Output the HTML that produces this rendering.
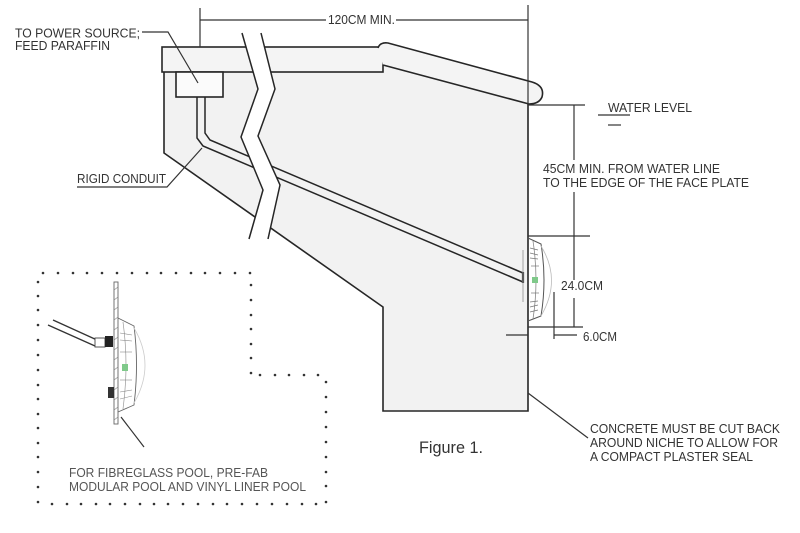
<!DOCTYPE html>
<html><head><meta charset="utf-8"><style>
html,body{margin:0;padding:0;background:#fff;}
svg{display:block;}
text{font-family:"Liberation Sans",Arial,sans-serif;}
</style></head><body>
<svg width="800" height="533" viewBox="0 0 800 533" xmlns="http://www.w3.org/2000/svg">
<rect width="800" height="533" fill="#fff"/>
<!-- body fill -->
<polygon points="164,72 383,72 383,65 528,104 528,411 383,411 383,307 164,153" fill="#f2f2f2"/>
<!-- slab -->
<rect x="162" y="47" width="221" height="25" fill="#f4f4f4" stroke="#262626" stroke-width="1.6"/>
<!-- coping -->
<path d="M378,48 Q380,42 388,43 L532,82 Q545,86 542,97 Q539,104 529,104 L383,65" fill="#f4f4f4" stroke="#262626" stroke-width="1.6"/>
<!-- body outline -->
<polyline points="164,72 164,153 383,307 383,411 528,411 528,104" fill="none" stroke="#262626" stroke-width="1.6"/>
<!-- junction box -->
<rect x="176" y="72" width="47" height="25" fill="#fbfbfb" stroke="#262626" stroke-width="1.6"/>
<!-- conduit -->
<polyline points="205,97 205,133 210,140 523,273" fill="none" stroke="#262626" stroke-width="1.5"/>
<polyline points="197,97 197,138 203,146 523,282" fill="none" stroke="#262626" stroke-width="1.5"/>
<line x1="523" y1="272" x2="523" y2="283" stroke="#262626" stroke-width="2.2"/>
<!-- break -->
<polygon points="242,33 258,89 241,137 263,190 249,239 268,239 280,185 258,136 275,89 261,33" fill="#fff"/>
<polyline points="242,33 258,89 241,137 263,190 249,239" fill="none" stroke="#262626" stroke-width="1.5"/>
<polyline points="261,33 275,89 258,136 280,185 268,239" fill="none" stroke="#262626" stroke-width="1.5"/>
<!-- dimension lines -->
<g stroke="#333" stroke-width="1.2" fill="none">
<line x1="200" y1="8" x2="200" y2="47"/>
<line x1="200" y1="20" x2="326" y2="20"/>
<line x1="396" y1="20" x2="528" y2="20"/>
<line x1="528" y1="5" x2="528" y2="104"/>
<line x1="528" y1="105" x2="585" y2="105"/>
<line x1="574" y1="105" x2="574" y2="160"/>
<line x1="574" y1="192" x2="574" y2="236"/>
<line x1="528" y1="236" x2="590" y2="236"/>
<line x1="574" y1="236" x2="574" y2="280"/>
<line x1="574" y1="298" x2="574" y2="327"/>
<line x1="528" y1="327" x2="583" y2="327"/>
<line x1="554" y1="292" x2="554" y2="339"/>
<line x1="554" y1="335" x2="577" y2="335"/>
<line x1="506" y1="335" x2="528" y2="335"/>
<line x1="598" y1="115" x2="630" y2="115"/>
<line x1="608" y1="125" x2="621" y2="125"/>
<!-- leaders -->
<polyline points="142,32 168,32 198,83"/>
<polyline points="77,187 167,187 202,148"/>
<line x1="528" y1="393" x2="588" y2="438"/>
<line x1="121" y1="417" x2="144" y2="447"/>
</g>
<!-- main fixture -->
<g fill="none">
<line x1="523" y1="250" x2="523" y2="302" stroke="#999" stroke-width="0.9"/>
<path d="M528,238 L541,244 Q547,280 541,316 L528,321" stroke="#555" stroke-width="1"/>
<path d="M533,241 Q539,280 533,319" stroke="#888" stroke-width="0.8"/>
<path d="M541,246 Q562,280 541,316" stroke="#bbb" stroke-width="0.8"/>
<g stroke="#777" stroke-width="0.7">
<line x1="530" y1="248" x2="538" y2="250"/><line x1="530" y1="253" x2="538" y2="255"/>
<line x1="530" y1="258" x2="538" y2="259"/><line x1="531" y1="266" x2="539" y2="266"/>
<line x1="531" y1="293" x2="539" y2="293"/><line x1="530" y1="302" x2="538" y2="301"/>
<line x1="530" y1="307" x2="538" y2="305"/><line x1="530" y1="312" x2="538" y2="310"/>
</g>
</g>
<rect x="532" y="277" width="6" height="6" fill="#7fc98a"/>
<!-- inset -->
<g>
<rect x="114" y="282" width="4" height="142" fill="#fff" stroke="#666" stroke-width="0.9"/>
<g stroke="#888" stroke-width="0.6">
<line x1="114" y1="290" x2="118" y2="287"/><line x1="114" y1="300" x2="118" y2="297"/>
<line x1="114" y1="310" x2="118" y2="307"/><line x1="114" y1="320" x2="118" y2="317"/>
<line x1="114" y1="330" x2="118" y2="327"/><line x1="114" y1="340" x2="118" y2="337"/>
<line x1="114" y1="350" x2="118" y2="347"/><line x1="114" y1="360" x2="118" y2="357"/>
<line x1="114" y1="370" x2="118" y2="367"/><line x1="114" y1="380" x2="118" y2="377"/>
<line x1="114" y1="390" x2="118" y2="387"/><line x1="114" y1="400" x2="118" y2="397"/>
<line x1="114" y1="410" x2="118" y2="407"/><line x1="114" y1="420" x2="118" y2="417"/>
</g>
<path d="M118,318 L134,326 Q139,365 134,405 L118,412" fill="none" stroke="#666" stroke-width="0.9"/>
<path d="M123,322 Q129,365 123,409" fill="none" stroke="#999" stroke-width="0.7"/>
<path d="M134,328 Q156,365 134,403" fill="none" stroke="#ccc" stroke-width="0.8"/>
<g stroke="#888" stroke-width="0.6">
<line x1="120" y1="333" x2="132" y2="335"/><line x1="120" y1="340" x2="132" y2="341"/>
<line x1="120" y1="352" x2="132" y2="352"/><line x1="120" y1="380" x2="132" y2="380"/>
<line x1="120" y1="392" x2="132" y2="390"/><line x1="120" y1="399" x2="132" y2="396"/>
</g>
<rect x="122" y="364" width="6" height="7" fill="#7fc98a"/>
<line x1="53" y1="320" x2="97" y2="340" stroke="#333" stroke-width="1.3"/>
<line x1="48" y1="325" x2="95" y2="346" stroke="#333" stroke-width="1.3"/>
<rect x="95" y="338" width="10" height="9" fill="#fff" stroke="#444" stroke-width="0.9"/>
<rect x="105" y="336" width="8" height="11" fill="#222"/>
<rect x="108" y="387" width="6" height="11" fill="#333"/>
</g>
<!-- dotted box -->
<g fill="#333">
<circle cx="43" cy="273" r="1.3"/><circle cx="58" cy="273" r="1.3"/><circle cx="73" cy="273" r="1.3"/><circle cx="87" cy="273" r="1.3"/><circle cx="102" cy="273" r="1.3"/><circle cx="117" cy="273" r="1.3"/><circle cx="132" cy="273" r="1.3"/><circle cx="147" cy="273" r="1.3"/><circle cx="161" cy="273" r="1.3"/><circle cx="176" cy="273" r="1.3"/><circle cx="191" cy="273" r="1.3"/><circle cx="205" cy="273" r="1.3"/><circle cx="220" cy="273" r="1.3"/><circle cx="235" cy="273" r="1.3"/><circle cx="250" cy="273" r="1.3"/>
<circle cx="38" cy="282" r="1.3"/><circle cx="38" cy="296" r="1.3"/><circle cx="38" cy="310" r="1.3"/><circle cx="38" cy="325" r="1.3"/><circle cx="38" cy="340" r="1.3"/><circle cx="38" cy="355" r="1.3"/><circle cx="38" cy="370" r="1.3"/><circle cx="38" cy="385" r="1.3"/><circle cx="38" cy="399" r="1.3"/><circle cx="38" cy="414" r="1.3"/><circle cx="38" cy="428" r="1.3"/><circle cx="38" cy="443" r="1.3"/><circle cx="38" cy="457" r="1.3"/><circle cx="38" cy="472" r="1.3"/><circle cx="38" cy="487" r="1.3"/><circle cx="38" cy="502" r="1.3"/>
<circle cx="52" cy="504" r="1.3"/><circle cx="67" cy="504" r="1.3"/><circle cx="81" cy="504" r="1.3"/><circle cx="96" cy="504" r="1.3"/><circle cx="110" cy="504" r="1.3"/><circle cx="125" cy="504" r="1.3"/><circle cx="140" cy="504" r="1.3"/><circle cx="154" cy="504" r="1.3"/><circle cx="168" cy="504" r="1.3"/><circle cx="183" cy="504" r="1.3"/><circle cx="198" cy="504" r="1.3"/><circle cx="213" cy="504" r="1.3"/><circle cx="227" cy="504" r="1.3"/><circle cx="242" cy="504" r="1.3"/><circle cx="257" cy="504" r="1.3"/><circle cx="272" cy="504" r="1.3"/><circle cx="287" cy="504" r="1.3"/><circle cx="302" cy="504" r="1.3"/><circle cx="316" cy="504" r="1.3"/><circle cx="326" cy="502" r="1.3"/>
<circle cx="326" cy="382" r="1.3"/><circle cx="326" cy="397" r="1.3"/><circle cx="326" cy="412" r="1.3"/><circle cx="326" cy="427" r="1.3"/><circle cx="326" cy="442" r="1.3"/><circle cx="326" cy="457" r="1.3"/><circle cx="326" cy="472" r="1.3"/><circle cx="326" cy="486" r="1.3"/>
<circle cx="251" cy="285" r="1.3"/><circle cx="251" cy="300" r="1.3"/><circle cx="251" cy="315" r="1.3"/><circle cx="251" cy="329" r="1.3"/><circle cx="251" cy="344" r="1.3"/><circle cx="251" cy="358" r="1.3"/><circle cx="251" cy="373" r="1.3"/>
<circle cx="260" cy="375" r="1.3"/><circle cx="275" cy="375" r="1.3"/><circle cx="289" cy="375" r="1.3"/><circle cx="304" cy="375" r="1.3"/><circle cx="318" cy="375" r="1.3"/>
</g>
<!-- labels -->
<g fill="#333" font-size="12.5">
<text x="15" y="37.5" textLength="125" lengthAdjust="spacingAndGlyphs">TO POWER SOURCE;</text>
<text x="15" y="50" textLength="95" lengthAdjust="spacingAndGlyphs">FEED PARAFFIN</text>
<text x="77" y="183" textLength="89" lengthAdjust="spacingAndGlyphs">RIGID CONDUIT</text>
<text x="328" y="24" textLength="67" lengthAdjust="spacingAndGlyphs">120CM MIN.</text>
<text x="608" y="112" textLength="84" lengthAdjust="spacingAndGlyphs">WATER LEVEL</text>
<text x="543" y="173" textLength="177" lengthAdjust="spacingAndGlyphs">45CM MIN. FROM WATER LINE</text>
<text x="543" y="187" textLength="206" lengthAdjust="spacingAndGlyphs">TO THE EDGE OF THE FACE PLATE</text>
<text x="561" y="290" textLength="42" lengthAdjust="spacingAndGlyphs">24.0CM</text>
<text x="583" y="341" textLength="34" lengthAdjust="spacingAndGlyphs">6.0CM</text>
<text x="590" y="433" textLength="190" lengthAdjust="spacingAndGlyphs">CONCRETE MUST BE CUT BACK</text>
<text x="590" y="447" textLength="188" lengthAdjust="spacingAndGlyphs">AROUND NICHE TO ALLOW FOR</text>
<text x="590" y="461" textLength="163" lengthAdjust="spacingAndGlyphs">A COMPACT PLASTER SEAL</text>
</g>
<text x="419" y="453" font-size="16.5" fill="#333" textLength="64" lengthAdjust="spacingAndGlyphs">Figure 1.</text>
<g fill="#555" font-size="13">
<text x="69" y="477" textLength="199" lengthAdjust="spacingAndGlyphs">FOR FIBREGLASS POOL, PRE-FAB</text>
<text x="69" y="491" textLength="237" lengthAdjust="spacingAndGlyphs">MODULAR POOL AND VINYL LINER POOL</text>
</g>
</svg>
</body></html>
